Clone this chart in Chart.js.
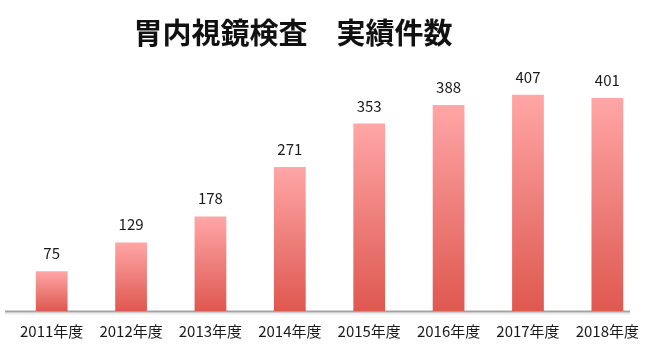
<!DOCTYPE html>
<html><head><meta charset="utf-8">
<script src="https://cdn.jsdelivr.net/npm/chart.js@4/dist/chart.umd.min.js"></script>
<style>html,body{margin:0;padding:0;background:#fff}#c{display:block}</style>
</head><body>
<canvas id="c" width="650" height="353"></canvas>
<script>
const titleText = "胃内視鏡検査　実績件数";
const categories = ["2011年度","2012年度","2013年度","2014年度","2015年度","2016年度","2017年度","2018年度"];
const counts = [75,129,178,271,353,388,407,401];

const FONT = "'Noto Sans CJK JP', 'Noto Sans', sans-serif";

const titlePlugin = {
  id: 'customTitle',
  afterDraw(chart) {
    const ctx = chart.ctx;
    ctx.save();
    ctx.font = "bold 29px " + FONT;
    ctx.fillStyle = "#111";
    ctx.textAlign = "center";
    ctx.textBaseline = "middle";
    ctx.fillText(titleText, 293, 33);
    ctx.restore();
  }
};

const axisLinePlugin = {
  id: 'axisLine',
  beforeDatasetsDraw(chart) {
    const ctx = chart.ctx;
    const y0 = chart.scales.y.getPixelForValue(0);
    ctx.save();
    ctx.strokeStyle = "rgba(0,0,0,0.08)";
    ctx.lineWidth = 2;
    ctx.beginPath(); ctx.moveTo(5, y0 + 2.5); ctx.lineTo(630, y0 + 2.5); ctx.stroke();
    ctx.strokeStyle = "#a3a3a3";
    ctx.lineWidth = 2;
    ctx.beginPath(); ctx.moveTo(5, y0 + 0.5); ctx.lineTo(630, y0 + 0.5); ctx.stroke();
    ctx.restore();
  }
};

const valueLabelPlugin = {
  id: 'valueLabels',
  afterDatasetsDraw(chart) {
    const ctx = chart.ctx;
    const meta = chart.getDatasetMeta(0);
    ctx.save();
    ctx.font = "15px " + FONT;
    ctx.fillStyle = "#1a1a1a";
    ctx.textAlign = "center";
    ctx.textBaseline = "alphabetic";
    meta.data.forEach((bar, i) => {
      ctx.fillText(String(counts[i]), bar.x, bar.y - 12);
    });
    ctx.restore();
  }
};

function barGradient(context) {
  const chart = context.chart;
  const {ctx, chartArea} = chart;
  if (!chartArea || context.dataIndex === undefined) return "#f08080";
  const ys = chart.scales.y;
  const top = ys.getPixelForValue(counts[context.dataIndex]);
  const bottom = ys.getPixelForValue(0);
  if (!isFinite(top) || !isFinite(bottom) || top === bottom) return "#f08080";
  const g = ctx.createLinearGradient(0, top, 0, bottom);
  g.addColorStop(0, "#ffa6a6");
  g.addColorStop(0.5, "#ee7f7b");
  g.addColorStop(1, "#df5850");
  return g;
}

new Chart(document.getElementById('c'), {
  type: 'bar',
  data: {
    labels: categories,
    datasets: [{
      data: counts,
      backgroundColor: barGradient,
      borderWidth: 0,
      barPercentage: 0.8,
      categoryPercentage: 0.5
    }]
  },
  options: {
    responsive: false,
    animation: false,
    devicePixelRatio: 1,
    layout: { padding: { top: 72, left: 12, right: 0, bottom: 2 } },
    plugins: { legend: { display: false }, title: { display: false }, tooltip: { enabled: false } },
    scales: {
      x: {
        grid: { display: false, drawTicks: false },
        border: { display: false },
        ticks: { color: "#1a1a1a", font: { family: FONT, size: 15 }, padding: 11, maxRotation: 0, autoSkip: false }
      },
      y: {
        display: false,
        min: 0,
        max: 450
      }
    }
  },
  plugins: [titlePlugin, axisLinePlugin, valueLabelPlugin]
});
</script>
</body></html>
